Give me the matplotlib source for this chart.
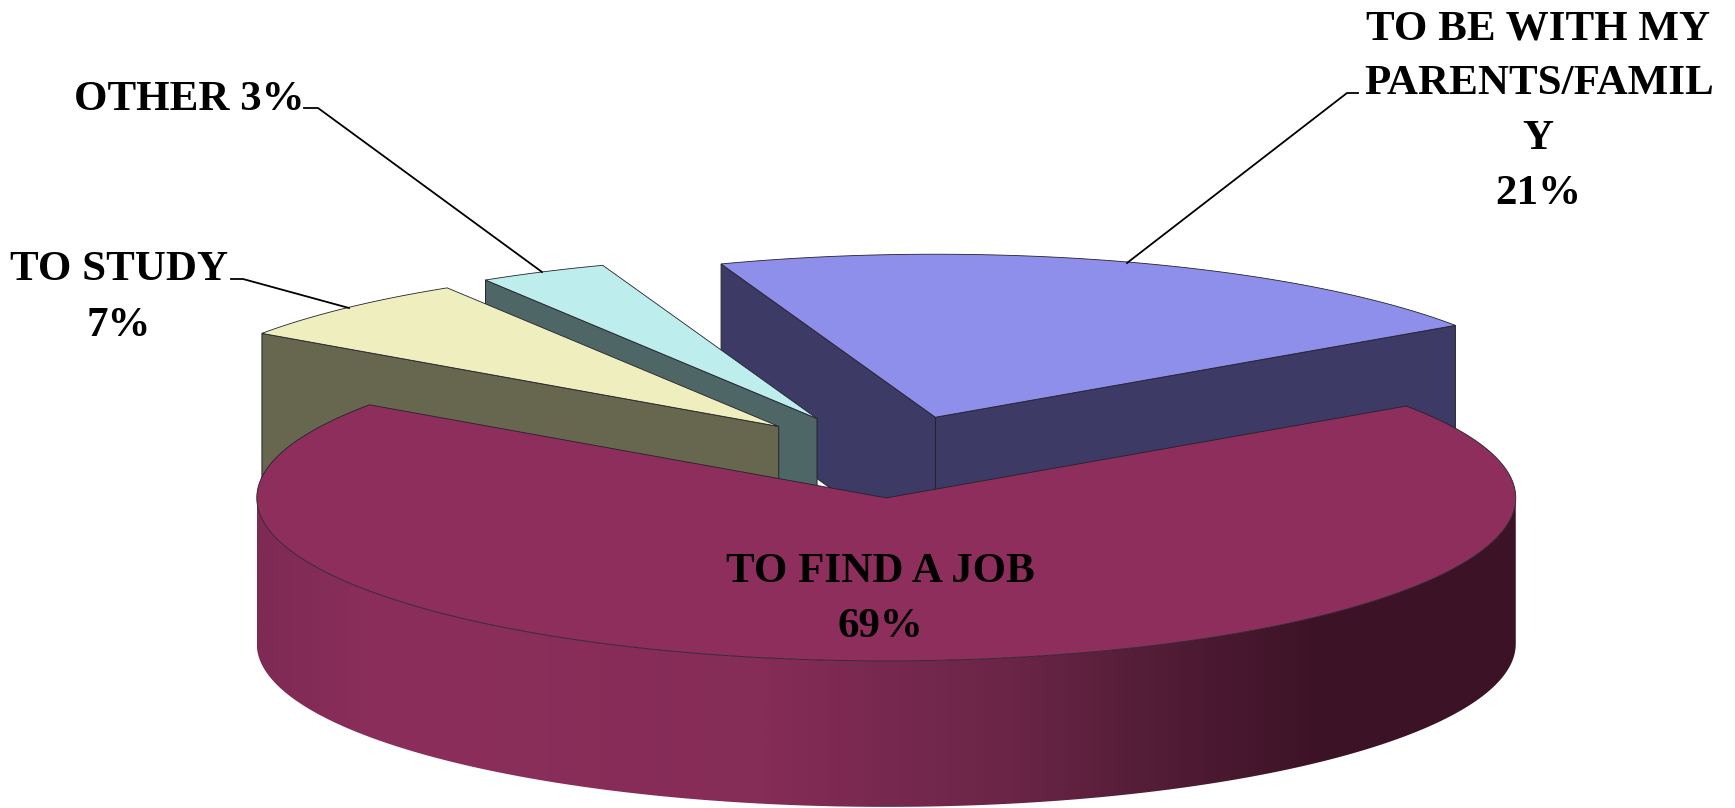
#!/usr/bin/env python3
"""Exploded 3D style pie: why people want to go back."""
import numpy as np
import matplotlib
matplotlib.use('Agg')
import matplotlib.pyplot as plt
from matplotlib.colors import LinearSegmentedColormap
from matplotlib.patches import Polygon

categories = ['TO FIND A JOB', 'TO BE WITH MY PARENTS/FAMILY', 'OTHER', 'TO STUDY']
# unrounded shares, labels print them rounded
shares = [69.2, 21.0, 3.3, 6.5]
explode = [0.257, 0.25, 0.255, 0.25]

TOP_COLORS = ['#8D2E5C', '#8E8EEB', '#BDEDED', '#EEEEBE']
WALL_COLORS = ['#8D2E5C', '#3D3B66', '#4F6666', '#67664F']

CX, CY = 887.0, 456.0
RX, RY = 629.5, 163.0
DEPTH = 146.0
FIRST_ANGLE = 34.3   # end of the job slice, degrees counter clockwise

plt.rcParams['font.family'] = ['Liberation Serif', 'DejaVu Serif']
FONT = dict(fontsize=31, fontweight='bold', color='black', va='baseline', ha='center')

rim_cmap = LinearSegmentedColormap.from_list('rim', [
    (0.00, '#7E2A55'), (0.10, '#8C2E5B'), (0.40, '#852C57'),
    (0.60, '#6A2547'), (0.75, '#4C1A32'), (0.85, '#3C1226'), (1.00, '#3C1226'),
])


def rim(center, a0, a1):
    t = np.radians(np.linspace(a0, a1, 240))
    return np.column_stack([center[0] + RX * np.cos(t), center[1] - RY * np.sin(t)])


def down(pts):
    return pts + np.array([0, DEPTH])


def draw_slice(ax, a0, a1, frac, top, wall, gradient=False):
    mid = np.radians((a0 + a1) / 2)
    center = np.array([CX + frac * RX * np.cos(mid), CY - frac * RY * np.sin(mid)])
    edge = '#24222B'

    # the two cut faces, only if turned towards the viewer
    for ang, normal in ((a0, a0 - 90), (a1, a1 + 90)):
        if np.sin(np.radians(normal)) < 0:
            p = rim(center, ang, ang)[0]
            face = np.array([center, p, p + [0, DEPTH], center + [0, DEPTH]])
            ax.add_patch(Polygon(face, closed=True, fc=wall, ec=edge, lw=0.7))

    # outer wall for the part of the rim on the front side
    lo, hi = max(a0, 180), min(a1, 360)
    if hi > lo:
        r = rim(center, lo, hi)
        wall_pts = np.vstack([r, down(r)[::-1]])
        poly = Polygon(wall_pts, closed=True, fc='none', ec='none')
        ax.add_patch(poly)
        if gradient:
            im = ax.imshow(np.linspace(0, 1, 512)[None, :], cmap=rim_cmap, aspect='auto',
                           extent=(r[:, 0].min(), r[:, 0].max(), r[:, 1].max() + DEPTH, r[:, 1].min()),
                           zorder=poly.get_zorder() - 0.1)
            im.set_clip_path(poly)

    arc = rim(center, a0, a1)
    ax.add_patch(Polygon(np.vstack([center, arc]), closed=True, fc=top, ec=edge, lw=0.6))
    return center


fig = plt.figure(figsize=(17.35, 8.08), dpi=100)
ax = fig.add_axes([0, 0, 1, 1])

# slices go counter clockwise from the job slice end, the job slice wraps round the front
spans = [s * 3.6 for s in shares]
family_end = FIRST_ANGLE + spans[1]
other_end = family_end + spans[2]
study_end = other_end + spans[3]

draw_slice(ax, FIRST_ANGLE, family_end, explode[1], TOP_COLORS[1], WALL_COLORS[1])
draw_slice(ax, family_end, other_end, explode[2], TOP_COLORS[2], WALL_COLORS[2])
draw_slice(ax, other_end, study_end, explode[3], TOP_COLORS[3], WALL_COLORS[3])
draw_slice(ax, study_end, FIRST_ANGLE + 360, explode[0], TOP_COLORS[0], WALL_COLORS[0], gradient=True)

# leader lines
ax.plot([1358, 1347, 1127], [93, 93, 263], color='black', lw=1.3)
ax.plot([304, 318, 542], [108, 108, 272], color='black', lw=1.3)
ax.plot([231, 243, 349], [279, 279, 308], color='black', lw=1.3)

ax.text(1538, 39, 'TO BE WITH MY', **FONT)
ax.text(1539, 94, 'PARENTS/FAMIL', **FONT)
ax.text(1538, 149, 'Y', **FONT)
ax.text(1538, 204, '21%', **FONT)
ax.text(189, 110, 'OTHER 3%', **FONT)
ax.text(119, 280, 'TO STUDY', **FONT)
ax.text(119, 336, '7%', **FONT)
ax.text(880, 582, 'TO FIND A JOB', **FONT)
ax.text(880, 637, '69%', **FONT)

ax.set_xlim(0, 1735)
ax.set_ylim(808, 0)
ax.axis('off')
fig.savefig('out.png', dpi=100, facecolor='white')
